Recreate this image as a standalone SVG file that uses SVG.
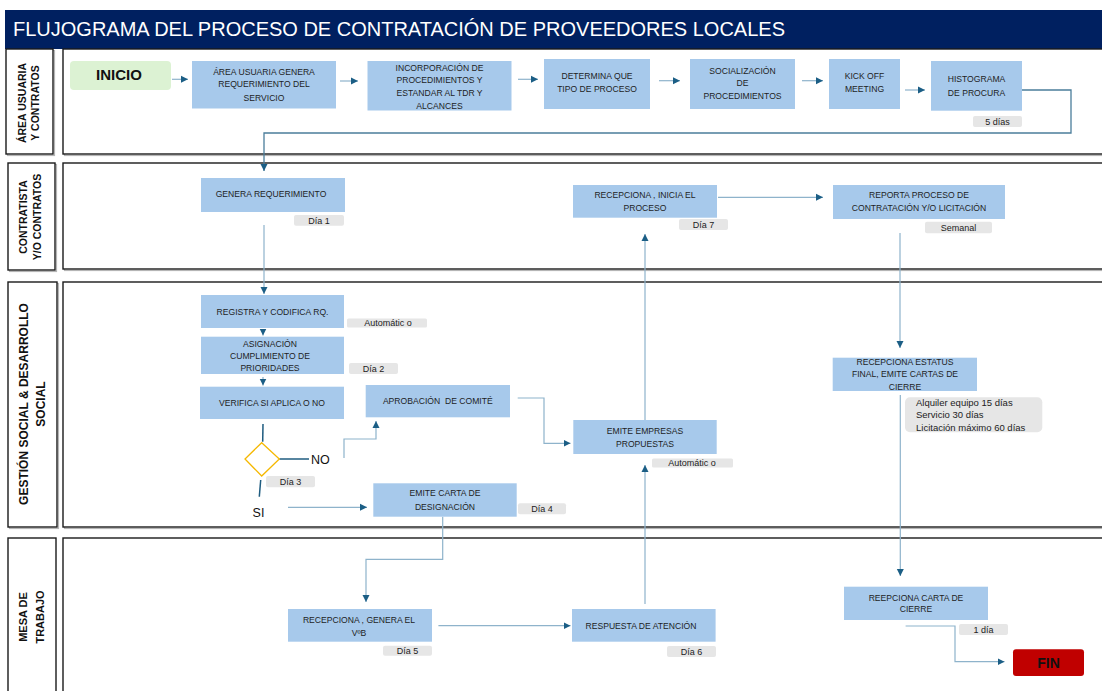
<svg xmlns="http://www.w3.org/2000/svg" width="1102" height="691" viewBox="0 0 1102 691">
<defs>
<style>
.lane{fill:#fff;stroke:#1a1a1a;stroke-width:1.4}
.shd{fill:none;stroke:#b5b5b5;stroke-width:1.2}
.lbl{font-family:"Liberation Sans",Arial,sans-serif;font-weight:bold;font-size:10.5px;fill:#111;text-anchor:middle}
.box{fill:#A7C9EB}
.t{font-family:"Liberation Sans",Arial,sans-serif;font-size:8.6px;fill:#1e1e1e;text-anchor:middle}
.badge{fill:#E6E6E6}
.bt{font-family:"Liberation Sans",Arial,sans-serif;font-size:9px;fill:#222;text-anchor:middle}
.conn{fill:none;stroke:#8EB3CB;stroke-width:1.2}
.cdk{fill:none;stroke:#4B7D9B;stroke-width:1.3}
.dk{fill:none;stroke:#1F5C80;stroke-width:1.5}
.yn{font-family:"Liberation Sans",Arial,sans-serif;font-size:12.5px;fill:#111}
</style>
<marker id="ah" markerWidth="8" markerHeight="8" refX="7" refY="4" orient="auto" markerUnits="userSpaceOnUse">
<path d="M0,0.5 L7,4 L0,7.5 z" fill="#1B5E85"/>
</marker>
</defs>
<rect width="1102" height="691" fill="#fff"/>

<g id="title">
<rect x="5" y="10" width="1097" height="39" fill="#002060"/>
<text x="13" y="36" font-family="'Liberation Sans',Arial,sans-serif" font-size="20px" fill="#fff">FLUJOGRAMA DEL PROCESO DE CONTRATACIÓN DE PROVEEDORES LOCALES</text>
</g>

<g id="lanes">
<rect class="shd" x="7.5" y="50.5" width="47" height="105"/>
<rect class="lane" x="6" y="49" width="47" height="105"/>
<rect class="shd" x="64.5" y="50.5" width="1045" height="105"/>
<rect class="lane" x="63" y="49" width="1045" height="105"/>

<rect class="shd" x="9.5" y="164.5" width="47" height="107"/>
<rect class="lane" x="8" y="163" width="47" height="107"/>
<rect class="shd" x="64.5" y="164.5" width="1045" height="106"/>
<rect class="lane" x="63" y="163" width="1045" height="106"/>

<rect class="shd" x="9.5" y="283.5" width="49" height="245"/>
<rect class="lane" x="8" y="282" width="49" height="245"/>
<rect class="shd" x="64.5" y="283.5" width="1045" height="245"/>
<rect class="lane" x="63" y="282" width="1045" height="245"/>

<rect class="lane" x="8" y="538" width="48" height="170"/>
<rect class="lane" x="63" y="538" width="1045" height="170"/>

<text class="lbl" transform="translate(0,103) rotate(-90)"><tspan x="0" y="26">ÁREA USUARIA</tspan><tspan x="0" y="39">Y CONTRATOS</tspan></text>
<text class="lbl" transform="translate(0,217) rotate(-90)"><tspan x="0" y="27">CONTRATISTA</tspan><tspan x="0" y="40.5">Y/O CONTRATOS</tspan></text>
<text class="lbl" style="font-size:12px" transform="translate(0,404) rotate(-90)"><tspan x="0" y="28">GESTIÓN SOCIAL &amp; DESARROLLO</tspan><tspan x="0" y="44.5">SOCIAL</tspan></text>
<text class="lbl" style="font-size:11px" transform="translate(0,617) rotate(-90)"><tspan x="0" y="27">MESA DE</tspan><tspan x="0" y="43.5">TRABAJO</tspan></text>
</g>

<g id="connectors">
<path class="conn" d="M172 79.3 H188" marker-end="url(#ah)"/>
<path class="conn" d="M340 81 H358" marker-end="url(#ah)"/>
<path class="conn" d="M518 79.3 H538" marker-end="url(#ah)"/>
<path class="conn" d="M659 80.7 H680" marker-end="url(#ah)"/>
<path class="conn" d="M802 80.7 H823" marker-end="url(#ah)"/>
<path class="conn" d="M905 90 H925" marker-end="url(#ah)"/>
<path class="cdk" d="M1022 90 H1071 V133 H264 V171" marker-end="url(#ah)"/>
<path class="conn" d="M264 225 V294" marker-end="url(#ah)"/>
<path class="conn" d="M263 329 V335.5" marker-end="url(#ah)"/>
<path class="conn" d="M263 377 V385.5" marker-end="url(#ah)"/>
<path class="dk" d="M263 424 L262.7 441.7"/>
<path class="dk" d="M279.3 459 H309"/>
<path class="dk" d="M260.7 480 L259.3 496.7"/>
<path class="conn" d="M288 507.3 H367" marker-end="url(#ah)"/>
<path class="conn" d="M344 458 V439 H376 V421" marker-end="url(#ah)"/>
<path class="conn" d="M517.7 398 H544 V443.3 H570.5" marker-end="url(#ah)"/>
<path class="conn" d="M645 420 V234" marker-end="url(#ah)"/>
<path class="conn" d="M645 604 V465" marker-end="url(#ah)"/>
<path class="conn" d="M718 197.3 H823" marker-end="url(#ah)"/>
<path class="conn" d="M900 233 V348" marker-end="url(#ah)"/>
<path class="conn" d="M900.3 395 V576" marker-end="url(#ah)"/>
<path class="conn" d="M442.7 516.7 V559.3 H366 V602" marker-end="url(#ah)"/>
<path class="conn" d="M438.4 625.7 H570.5" marker-end="url(#ah)"/>
<path class="conn" d="M905.6 626 H955 V661.7 H1004.5" marker-end="url(#ah)"/>
</g>

<g id="inicio">
<rect x="70" y="61" width="101" height="29" rx="4" fill="#DCF2D3"/>
<text x="119" y="79.5" font-family="'Liberation Sans',Arial,sans-serif" font-size="15px" font-weight="bold" fill="#111" text-anchor="middle">INICIO</text>
</g>
<g id="area-usuaria">
<rect class="box" x="192" y="61" width="144" height="47.5"/>
<text class="t"><tspan x="264" y="74.8">ÁREA USUARIA GENERA</tspan><tspan x="264" y="87.1">REQUERIMIENTO DEL</tspan><tspan x="264" y="100.8">SERVICIO</tspan></text>
</g>
<g id="incorporacion">
<rect class="box" x="367.5" y="61" width="144" height="49.5"/>
<text class="t"><tspan x="439.5" y="70.8">INCORPORACIÓN DE</tspan><tspan x="439.5" y="83.1">PROCEDIMIENTOS Y</tspan><tspan x="439.5" y="95.8">ESTANDAR AL TDR Y</tspan><tspan x="439.5" y="108.8">ALCANCES</tspan></text>
</g>
<g id="determina">
<rect class="box" x="544" y="59" width="106" height="50"/>
<text class="t"><tspan x="597" y="79.1">DETERMINA QUE</tspan><tspan x="597" y="92.4">TIPO DE PROCESO</tspan></text>
</g>
<g id="socializacion">
<rect class="box" x="690" y="59" width="105" height="50"/>
<text class="t"><tspan x="742.5" y="73.8">SOCIALIZACIÓN</tspan><tspan x="742.5" y="86.1">DE</tspan><tspan x="742.5" y="98.8">PROCEDIMIENTOS</tspan></text>
</g>
<g id="kickoff">
<rect class="box" x="829" y="59" width="71" height="50"/>
<text class="t"><tspan x="864.5" y="79.1">KICK OFF</tspan><tspan x="864.5" y="92.4">MEETING</tspan></text>
</g>
<g id="histograma">
<rect class="box" x="931" y="61" width="91" height="49.7"/>
<text class="t"><tspan x="976.5" y="82.4">HISTOGRAMA</tspan><tspan x="976.5" y="96.4">DE PROCURA</tspan></text>
<rect class="badge" x="973" y="116" width="49" height="11" rx="2"/>
<text class="bt" x="997.5" y="124.7">5 días</text>
</g>

<g id="genera-req">
<rect class="box" x="201" y="178" width="144" height="34"/>
<text class="t" x="271" y="197.4">GENERA REQUERIMIENTO</text>
<rect class="badge" x="294" y="215" width="50" height="10.7" rx="2"/>
<text class="bt" x="319" y="223.5">Día 1</text>
</g>
<g id="recepciona-inicia">
<rect class="box" x="573" y="185" width="144" height="32.7"/>
<text class="t"><tspan x="645" y="198.1">RECEPCIONA , INICIA EL</tspan><tspan x="645" y="210.8">PROCESO</tspan></text>
<rect class="badge" x="679" y="219" width="49" height="11" rx="2"/>
<text class="bt" x="703.5" y="227.7">Día 7</text>
</g>
<g id="reporta">
<rect class="box" x="833" y="185" width="172" height="34"/>
<text class="t"><tspan x="919" y="198.1">REPORTA PROCESO DE</tspan><tspan x="919" y="211.4">CONTRATACIÓN Y/O LICITACIÓN</tspan></text>
<rect class="badge" x="925" y="221.7" width="67" height="11.6" rx="2"/>
<text class="bt" x="958.5" y="230.7">Semanal</text>
</g>

<g id="registra">
<rect class="box" x="201" y="295" width="143" height="33"/>
<text class="t" x="272.5" y="314.8">REGISTRA Y CODIFICA RQ.</text>
<rect class="badge" x="347" y="318.5" width="80" height="9" rx="1.5"/>
<text class="bt" x="388" y="326.3">Automátic o</text>
</g>
<g id="asignacion">
<rect class="box" x="201" y="336.7" width="143" height="37.3"/>
<text class="t"><tspan x="270" y="347.1">ASIGNACIÓN</tspan><tspan x="270" y="358.8">CUMPLIMIENTO DE</tspan><tspan x="270" y="371.1">PRIORIDADES</tspan></text>
<rect class="badge" x="349" y="363" width="49" height="11" rx="2"/>
<text class="bt" x="373.5" y="371.7">Día 2</text>
</g>
<g id="verifica">
<rect class="box" x="200" y="386.7" width="144" height="32.3"/>
<text class="t" x="272" y="406.1">VERIFICA SI APLICA O NO</text>
</g>
<g id="decision">
<polygon points="261.7,442.7 279.3,459 261.7,476 245,459" fill="#fff" stroke="#F5B800" stroke-width="1.3"/>
<text class="yn" x="311" y="463.6">NO</text>
<text class="yn" x="258.5" y="517" text-anchor="middle">SI</text>
<rect class="badge" x="266" y="476" width="49" height="11.3" rx="2"/>
<text class="bt" x="290.5" y="484.8">Día 3</text>
</g>
<g id="aprobacion">
<rect class="box" x="365.7" y="385" width="144.3" height="32.3"/>
<text class="t" x="437.8" y="403.8" xml:space="preserve">APROBACIÓN  DE COMITÉ</text>
</g>
<g id="emite-empresas">
<rect class="box" x="573.3" y="420" width="143.4" height="34"/>
<text class="t"><tspan x="645" y="433.8">EMITE EMPRESAS</tspan><tspan x="645" y="447.1">PROPUESTAS</tspan></text>
<rect class="badge" x="652" y="458.5" width="81" height="9" rx="1.5"/>
<text class="bt" x="692" y="466.3">Automátic o</text>
</g>
<g id="emite-carta">
<rect class="box" x="373.3" y="483.3" width="143.4" height="33.4"/>
<text class="t"><tspan x="445" y="496.4">EMITE CARTA DE</tspan><tspan x="445" y="509.8">DESIGNACIÓN</tspan></text>
<rect class="badge" x="518" y="503.3" width="48" height="11" rx="2"/>
<text class="bt" x="542" y="512">Día 4</text>
</g>
<g id="estatus">
<rect class="box" x="832.7" y="357.7" width="144.3" height="33.3"/>
<text class="t"><tspan x="905" y="364.8">RECEPCIONA ESTATUS</tspan><tspan x="905" y="377.1">FINAL, EMITE CARTAS DE</tspan><tspan x="905" y="390.1">CIERRE</tspan></text>
<rect class="badge" x="905" y="397.3" width="137.3" height="35" rx="5"/>
<text class="bt" style="font-size:9.5px;text-anchor:start"><tspan x="916" y="406.1">Alquiler equipo 15 días</tspan><tspan x="916" y="418.4">Servicio 30 días</tspan><tspan x="916" y="431">Licitación máximo 60 días</tspan></text>
</g>

<g id="recepciona-genera">
<rect class="box" x="288" y="609" width="144" height="32.7"/>
<text class="t"><tspan x="359" y="623.1">RECEPCIONA , GENERA EL</tspan><tspan x="359" y="636.1">VºB</tspan></text>
<rect class="badge" x="383" y="645.7" width="49" height="10" rx="2"/>
<text class="bt" x="407.5" y="653.9">Día 5</text>
</g>
<g id="respuesta">
<rect class="box" x="572" y="609" width="143.6" height="32.7"/>
<text class="t" x="641" y="629.1">RESPUESTA DE ATENCIÓN</text>
<rect class="badge" x="667" y="646" width="49" height="11" rx="2"/>
<text class="bt" x="691.5" y="654.7">Día 6</text>
</g>
<g id="reepciona-cierre">
<rect class="box" x="844" y="586.7" width="144" height="33.3"/>
<text class="t"><tspan x="916" y="600.8">REEPCIONA CARTA DE</tspan><tspan x="916" y="612.4">CIERRE</tspan></text>
<rect class="badge" x="959" y="624" width="49" height="11" rx="2"/>
<text class="bt" x="983.5" y="632.7">1 día</text>
</g>
<g id="fin">
<rect x="1013" y="649.3" width="71" height="26.7" rx="3" fill="#C00000"/>
<text x="1048.5" y="667.5" font-family="'Liberation Sans',Arial,sans-serif" font-size="14px" font-weight="bold" fill="#111" text-anchor="middle">FIN</text>
</g>
</svg>
